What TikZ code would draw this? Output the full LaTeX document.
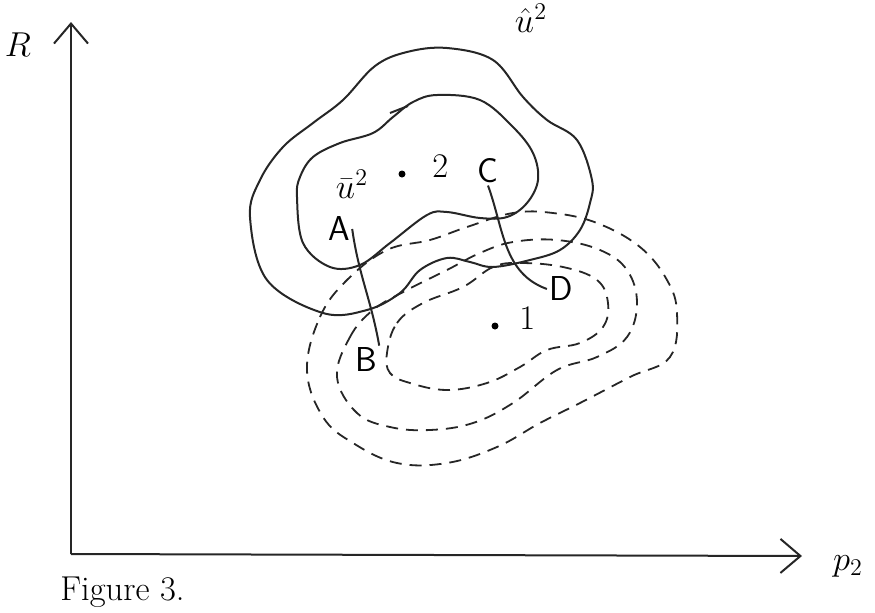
\documentclass[tikz,border=0pt]{standalone}
\usepackage{amsmath,amssymb}
\usepackage{tikz}
\usetikzlibrary{arrows.meta,positioning}

\begin{document}
\begin{tikzpicture}[x=0.5pt, y=-0.5pt,
    lab/.style={font=\LARGE, inner sep=1pt},
    hand/.style={font=\LARGE\sffamily, inner sep=1pt},
    pt/.style={circle, fill=black, inner sep=0pt, minimum size=3.5pt},
    level/.style={line width=1pt, black!85},
    dashlevel/.style={line width=0.9pt, black!85, dash pattern=on 6pt off 4pt},
    arr/.style={-{Straight Barb[length=10pt, width=17pt, line width=1pt]}, line width=1pt, black!85}
]
    \useasboundingbox (0,0) rectangle (875,612);

    % axes
    \coordinate (O) at (71,554);
    \coordinate (ytip) at (71,22);
    \coordinate (xtip) at (802,556);
    \draw[arr] (O) -- (ytip);
    \draw[arr] (O) -- (xtip);
    \node[lab] (R) at (18,45) {$R$};
    \node[lab] (p2) at (848,566) {$p_2$};
    \node[lab, anchor=west] (cap) at (58,592) {Figure 3.};

    % indifference contours (solid)
    \draw[level] plot[smooth cycle, tension=0.6] coordinates {
        (447,48) (493,60) (523,97) (547,120) (577,140) (592,180) (590,203)
        (580,230) (560,250) (530,260) (493,267) (470,262) (447,258) (420,270)
        (400,293) (367,310) (323,313) (267,280) (250,217) (260,180) (283,147)
        (313,123) (343,100) (375,66) (407,52)};
    \draw[level] plot[smooth cycle, tension=0.6] coordinates {
        (437,95) (480,100) (513,127) (533,153) (538,180) (527,203) (507,217)
        (480,218) (447,212) (427,215) (390,243) (360,265) (330,267) (303,243)
        (297,197) (300,177) (313,157) (340,143) (373,133) (393,117) (413,102)};
    \draw[level] (390,113) -- (408,106);

    % contours of the other party (dashed)
    \draw[dashlevel] plot[smooth cycle, tension=0.65] coordinates {
        (307,370) (320,317) (347,280) (387,250) (430,240) (467,227) (513,213)
        (553,213) (597,223) (640,247) (667,280) (677,313) (670,357) (630,377)
        (580,403) (540,423) (497,447) (447,463) (397,463) (353,443) (323,417)};
    \draw[dashlevel] plot[smooth cycle, tension=0.65] coordinates {
        (337,377) (350,337) (373,310) (407,290) (447,270) (480,253) (513,242)
        (557,240) (600,250) (627,270) (637,303) (627,337) (597,357) (557,370)
        (513,403) (473,423) (430,430) (390,427) (357,413)};
    \draw[dashlevel] plot[smooth cycle, tension=0.65] coordinates {
        (387,353) (397,323) (423,303) (463,287) (493,267) (520,263) (563,267)
        (597,280) (608,303) (603,327) (580,343) (547,350) (520,367) (487,383)
        (447,390) (410,383) (390,373)};

    % labels and points
    \node[lab] (uhat) at (531,18) {$\hat{u}^2$};
    \node[lab] (ubar) at (352,184) {$\bar{u}^2$};
    \node[pt] (two) at (402,174) {};
    \node[lab, right=12pt of two, yshift=4pt] (twolab) {2};
    \node[pt] (one) at (495,326) {};
    \node[lab, right=9pt of one, yshift=4pt] (onelab) {1};

    \node[hand] (A) at (339,229) {A};
    \node[hand] (B) at (366,360) {B};
    \node[hand] (C) at (488,171) {C};
    \node[hand] (D) at (561,289) {D};

    \draw[level] (A.east) to[out=-82, in=100] (B.north east);
    \draw[level] (C.south) to[out=-70, in=160] (D.west);
\end{tikzpicture}
\end{document}
